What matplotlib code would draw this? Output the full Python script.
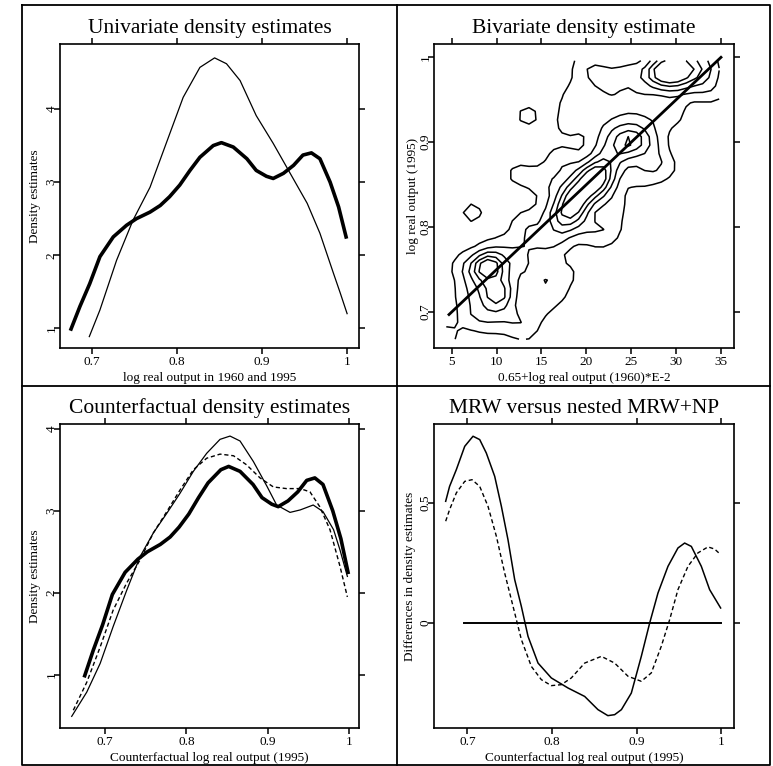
import numpy as np
import matplotlib.pyplot as plt
from matplotlib.lines import Line2D

plt.rcParams['font.family'] = ['Liberation Serif', 'DejaVu Serif']

# --- univariate densities (panel 1, thick curve reused in panel 3) ---
x60 = [0.6965, 0.709, 0.7286, 0.748, 0.768, 0.787, 0.807, 0.8267, 0.844, 0.858,
       0.874, 0.893, 0.913, 0.933, 0.953, 0.968, 0.984, 0.992, 1.0]
d60 = [0.886, 1.25, 1.93, 2.48, 2.93, 3.53, 4.16, 4.57, 4.70, 4.62,
       4.39, 3.91, 3.53, 3.12, 2.71, 2.30, 1.75, 1.48, 1.20]

x95 = [0.675, 0.6855, 0.697, 0.709, 0.7247, 0.7404, 0.752, 0.768, 0.780, 0.791,
       0.803, 0.815, 0.8267, 0.8424, 0.852, 0.866, 0.882, 0.893, 0.905, 0.913,
       0.925, 0.937, 0.948, 0.958, 0.968, 0.980, 0.990, 0.9988]
d95 = [0.99, 1.30, 1.61, 1.98, 2.25, 2.41, 2.50, 2.59, 2.68, 2.80,
       2.96, 3.16, 3.34, 3.50, 3.54, 3.48, 3.32, 3.16, 3.08, 3.05,
       3.12, 3.23, 3.37, 3.40, 3.32, 3.00, 2.66, 2.25]

# --- counterfactual densities (panel 3) ---
xcf1 = [0.659, 0.6775, 0.694, 0.710, 0.7266, 0.743, 0.7594, 0.776, 0.792, 0.8086,
        0.825, 0.8414, 0.8537, 0.866, 0.8824, 0.899, 0.911, 0.9275, 0.94, 0.956,
        0.968, 0.981, 0.989, 0.998]
dcf1 = [0.495, 0.79, 1.14, 1.59, 2.03, 2.44, 2.73, 2.97, 3.21, 3.48,
        3.70, 3.87, 3.91, 3.85, 3.60, 3.30, 3.07, 2.98, 3.01, 3.07,
        2.99, 2.77, 2.52, 2.20]

xcf2 = [0.661, 0.6775, 0.694, 0.710, 0.7266, 0.743, 0.7594, 0.776, 0.792, 0.8086,
        0.825, 0.8414, 0.858, 0.874, 0.8906, 0.907, 0.923, 0.94, 0.952, 0.964,
        0.9766, 0.989, 0.998]
dcf2 = [0.57, 0.91, 1.34, 1.79, 2.12, 2.40, 2.73, 2.99, 3.25, 3.50,
        3.64, 3.69, 3.67, 3.56, 3.40, 3.29, 3.27, 3.27, 3.23, 3.05,
        2.77, 2.32, 1.95]

# --- differences (panel 4) ---
xdiff1 = [0.6744, 0.679, 0.687, 0.6969, 0.7067, 0.7146, 0.7224, 0.7323, 0.7402, 0.748,
          0.7559, 0.7638, 0.7717, 0.7835, 0.7992, 0.819, 0.8386, 0.8543, 0.866, 0.874,
          0.882, 0.8937, 0.9055, 0.9154, 0.9252, 0.937, 0.9488, 0.9567, 0.9646, 0.9764,
          0.9862, 0.9992]
diff1 = [0.507, 0.569, 0.639, 0.736, 0.778, 0.764, 0.708, 0.611, 0.486, 0.347,
         0.181, 0.069, -0.056, -0.167, -0.229, -0.271, -0.306, -0.361, -0.386, -0.382,
         -0.361, -0.292, -0.139, 0.0, 0.125, 0.236, 0.3125, 0.333, 0.319, 0.236,
         0.139, 0.0625]

xdiff2 = [0.6744, 0.679, 0.687, 0.6969, 0.7055, 0.7146, 0.7244, 0.7343, 0.7441, 0.754,
          0.7638, 0.7756, 0.7874, 0.7992, 0.811, 0.8228, 0.8386, 0.8583, 0.874, 0.8898,
          0.9055, 0.9173, 0.9291, 0.939, 0.9488, 0.9606, 0.9724, 0.9843, 0.9921, 0.9992]
diff2 = [0.424, 0.472, 0.542, 0.590, 0.597, 0.569, 0.486, 0.361, 0.208, 0.069,
         -0.069, -0.181, -0.236, -0.261, -0.257, -0.229, -0.167, -0.139, -0.167, -0.222,
         -0.243, -0.208, -0.097, 0.014, 0.139, 0.236, 0.292, 0.317, 0.308, 0.285]

# --- bivariate panel: (scaled 1960 output, 1995 output) observations ---
obs = [
    # lower-left cluster, two peaks
    (9.0, 0.755), (9.2, 0.752), (8.9, 0.757), (9.3, 0.756), (9.1, 0.750),
    (8.8, 0.753), (9.4, 0.751),
    (9.8, 0.720), (10.1, 0.722), (9.7, 0.716), (10.0, 0.726), (10.3, 0.718),
    (7.2, 0.745), (8.0, 0.730), (11.2, 0.745), (11.5, 0.728),
    (8.2, 0.700), (11.0, 0.700), (9.5, 0.690), (6.8, 0.720),
    (10.5, 0.775), (12.2, 0.690), (7.3, 0.695), (12.0, 0.765), (6.5, 0.755),
    # isolated countries
    (7.3, 0.817), (13.5, 0.931), (16.3, 0.722), (4.4, 0.672),
    # between lower-left and middle
    (12.8, 0.760), (13.5, 0.785), (14.5, 0.795), (13.0, 0.805), (15.5, 0.775),
    (14.2, 0.745), (16.5, 0.785), (14.5, 0.705), (13.2, 0.680), (15.5, 0.735),
    (17.5, 0.745),
    # middle plateau
    (17.5, 0.820), (18.0, 0.815), (18.5, 0.840), (18.7, 0.820), (19.2, 0.850),
    (19.5, 0.830), (20.0, 0.860), (20.3, 0.840), (20.8, 0.870), (21.0, 0.850),
    (21.5, 0.865), (18.0, 0.838), (19.0, 0.810), (21.5, 0.840),
    (18.2, 0.828), (19.0, 0.838), (17.3, 0.805), (20.5, 0.858), (21.2, 0.858),
    (18.8, 0.830), (20.2, 0.850), (22.0, 0.875), (21.8, 0.860),
    (16.0, 0.820), (16.5, 0.850), (15.0, 0.855), (12.5, 0.862), (17.0, 0.880),
    (22.5, 0.800), (23.0, 0.825), (17.5, 0.795), (21.5, 0.790), (22.3, 0.880),
    (16.8, 0.810), (22.8, 0.855), (20.0, 0.800), (18.0, 0.870),
    # upper cluster
    (24.5, 0.900), (25.0, 0.898), (24.7, 0.905), (24.2, 0.896), (25.3, 0.903),
    (23.0, 0.910), (26.5, 0.905), (22.5, 0.920), (26.5, 0.885), (27.5, 0.875),
    (23.8, 0.880), (27.5, 0.900), (21.5, 0.900), (24.5, 0.925), (26.0, 0.860),
    (28.5, 0.870), (23.0, 0.890), (26.0, 0.920),
    (19.5, 0.960), (21.0, 0.975), (23.5, 0.985), (18.0, 0.920), (20.0, 0.935),
    (25.5, 0.975), (22.0, 0.950), (24.5, 0.950), (19.8, 0.990), (26.5, 0.950),
    (28.0, 0.930), (21.5, 0.990), (25.0, 0.990), (18.5, 0.945), (23.0, 0.965),
    # top-right plateau
    (27.5, 0.985), (28.5, 0.990), (29.5, 0.985), (30.5, 0.990), (31.5, 0.992),
    (29.0, 0.975), (30.5, 0.975), (32.5, 0.982), (33.5, 0.972), (30.0, 0.962),
    (28.0, 0.995), (32.0, 0.968), (34.5, 0.990), (28.0, 0.972), (33.5, 0.995),
    (31.0, 0.995), (29.5, 0.998), (32.5, 0.998), (27.0, 0.975),
    (29.0, 0.985), (30.0, 0.980), (31.0, 0.985), (28.5, 0.980),
    (29.5, 0.935), (34.0, 0.962),
]
obs_x = [p[0] for p in obs]
obs_y = [p[1] for p in obs]
contour_levels = [0.7, 2.0, 3.3, 4.6, 5.8]
diag_x = [4.7, 35.0]

W, H = 773, 766
fig = plt.figure(figsize=(W / 100, H / 100), dpi=100)


def add_ax(left, top, right, bottom):
    return fig.add_axes([left / W, 1 - bottom / H, (right - left) / W, (bottom - top) / H])


def style(ax, title, xlabel, ylabel, ylab_x):
    for s in ax.spines.values():
        s.set_linewidth(1.2)
    ax.tick_params(direction='out', length=4, width=1.1, top=True, right=True,
                   labelsize=9.5)
    ax.tick_params(axis='x', pad=2)
    ax.tick_params(axis='y', labelrotation=90, pad=-2.2)
    for lab in ax.get_yticklabels():
        lab.set_va('center')
    ax.set_title(title, fontsize=15.5, pad=8)
    ax.set_xlabel(xlabel, fontsize=9.5, labelpad=2.5)
    ax.set_ylabel(ylabel, fontsize=9.5)
    ax.yaxis.set_label_coords(ylab_x, 0.5)


# panel 1
ax1 = add_ax(60, 44, 359, 348)
ax1.plot(x60, d60, color='black', lw=0.9)
ax1.plot(x95, d95, color='black', lw=2.6)
ax1.set_xlim(0.662, 1.014)
ax1.set_ylim(0.73, 4.89)
ax1.set_xticks([0.7, 0.8, 0.9, 1.0], ['0.7', '0.8', '0.9', '1'])
ax1.set_yticks([1, 2, 3, 4])
style(ax1, 'Univariate density estimates', 'log real output in 1960 and 1995',
      'Density estimates', -0.062)

# panel 2
ax2 = add_ax(434, 44, 734, 348)
gx = np.linspace(4.4, 34.8, 34)
gy = np.linspace(0.668, 0.996, 34)
GX, GY = np.meshgrid(gx, gy)
ox = np.array(obs_x)[:, None, None]
oy = np.array(obs_y)[:, None, None]
Z = np.exp(-0.5 * ((GX - ox) / 1.2) ** 2 - 0.5 * ((GY - oy) / 0.012) ** 2).sum(axis=0)
ax2.contour(GX, GY, Z, levels=contour_levels, colors='black', linewidths=1.1)
ax2.plot(diag_x, 0.65 + 0.01 * np.array(diag_x), color='black', lw=2.0)
ax2.set_xlim(3.03, 36.45)
ax2.set_ylim(0.6576, 1.0157)
ax2.set_xticks([5, 10, 15, 20, 25, 30, 35])
ax2.set_yticks([0.7, 0.8, 0.9, 1.0], ['0.7', '0.8', '0.9', '1'])
style(ax2, 'Bivariate density estimate', '0.65+log real output (1960)*E-2',
      'log real output (1995)', -0.05)

# panel 3
ax3 = add_ax(60, 424, 359, 728)
ax3.plot(xcf1, dcf1, color='black', lw=0.9)
ax3.plot(xcf2, dcf2, color='black', lw=1.0, ls=(0, (3, 2)))
ax3.plot(x95, d95, color='black', lw=2.6)
ax3.set_xlim(0.6446, 1.0123)
ax3.set_ylim(0.353, 4.057)
ax3.set_xticks([0.7, 0.8, 0.9, 1.0], ['0.7', '0.8', '0.9', '1'])
ax3.set_yticks([1, 2, 3, 4])
style(ax3, 'Counterfactual density estimates', 'Counterfactual log real output (1995)',
      'Density estimates', -0.062)

# panel 4
ax4 = add_ax(434, 424, 734, 728)
ax4.plot(xdiff1, diff1, color='black', lw=1.1)
ax4.plot(xdiff2, diff2, color='black', lw=1.0, ls=(0, (3, 2)))
ax4.plot([0.696, 1.0], [0, 0], color='black', lw=1.4)
ax4.set_xlim(0.6606, 1.015)
ax4.set_ylim(-0.4375, 0.829)
ax4.set_xticks([0.7, 0.8, 0.9, 1.0], ['0.7', '0.8', '0.9', '1'])
ax4.set_yticks([0, 0.5], ['0', '0.5'])
style(ax4, 'MRW versus nested MRW+NP', 'Counterfactual log real output (1995)',
      'Differences in density estimates', -0.06)


# outer frame and dividers
def fline(xs, ys):
    fig.add_artist(Line2D([x / W for x in xs], [1 - y / H for y in ys],
                          color='black', lw=1.3))


fline([22, 770, 770, 22, 22], [5, 5, 765, 765, 5])
fline([397, 397], [5, 765])
fline([22, 770], [386, 386])

fig.savefig('out.png', dpi=100)
